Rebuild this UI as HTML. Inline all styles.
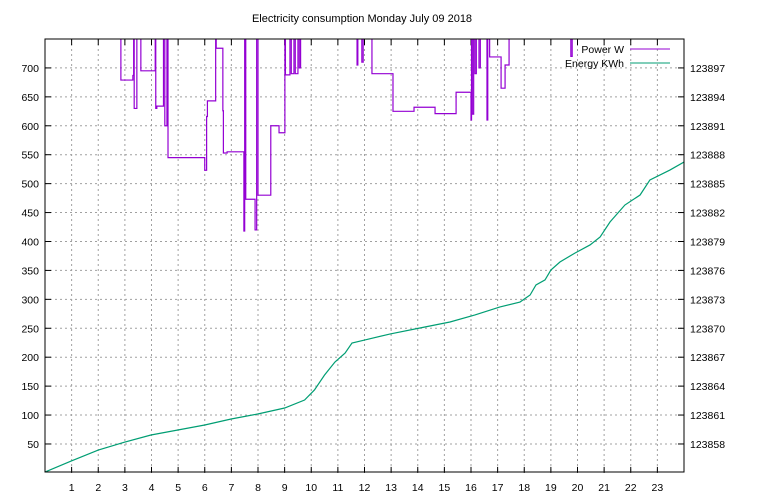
<!DOCTYPE html>
<html><head><meta charset="utf-8"><style>
body{margin:0;background:#fff;}
svg{display:block;font-family:"Liberation Sans",sans-serif;font-size:10.5px;}
</style></head><body>
<svg id="chart" width="768" height="500">
<text x="362" y="22" text-anchor="middle" font-size="11">Electricity consumption Monday July 09 2018</text>
<g id="grid"></g>
<g id="axes"></g>
<clipPath id="clip"><rect x="45" y="39" width="639" height="433"/></clipPath>
<g clip-path="url(#clip)">
<path id="power" fill="none" stroke="#9400d3" stroke-width="1.2"/>
<path id="energy" fill="none" stroke="#009e73" stroke-width="1.2"/>
</g>
<rect x="45" y="39" width="639" height="433" fill="none" stroke="#000"/>
<g>
<text x="624" y="53" text-anchor="end">Power W</text>
<line x1="630" y1="49" x2="670" y2="49" stroke="#9400d3"/>
<text x="624" y="67" text-anchor="end">Energy KWh</text>
<line x1="630" y1="63" x2="670" y2="63" stroke="#009e73"/>
</g>
</svg>
<script>
const xTicks=[1,2,3,4,5,6,7,8,9,10,11,12,13,14,15,16,17,18,19,20,21,22,23];
const yTicks=[50,100,150,200,250,300,350,400,450,500,550,600,650,700];
const y2Ticks=[123858,123861,123864,123867,123870,123873,123876,123879,123882,123885,123888,123891,123894,123897];
const powerHours=[0,2.85,3.3,3.33,3.35,3.45,3.6,4.14,4.16,4.2,4.45,4.5,4.58,4.62,6.0,6.07,6.1,6.41,6.43,6.68,6.7,6.84,7.47,7.5,7.54,7.89,7.95,8.0,8.48,8.79,9.01,9.03,9.2,9.25,9.35,9.4,9.5,9.55,9.6,11.72,11.75,11.9,11.95,12.28,13.07,13.86,14.65,15.44,16.0,16.02,16.05,16.1,16.15,16.2,16.3,16.35,16.6,16.63,16.7,17.13,17.28,17.43,19.75,19.8];
const powerWatts=[900,679,687,900,630,900,695,900,630,634,900,600,900,545,523,616,643,900,734,626,553,555,418,900,473,420,900,480,600,588,900,688,900,690,900,690,900,700,900,705,900,710,900,690,625,632,621,658,610,900,620,900,690,900,700,900,610,900,719,665,705,900,720,900];
const energyHours=[0,0.98,2.0,3.0,3.98,4.99,6.0,6.99,7.99,9.0,9.75,10.12,10.5,10.89,11.27,11.53,12.0,12.97,14.08,15.21,16.15,17.09,17.84,18.22,18.44,18.78,19.0,19.34,19.91,20.47,20.85,21.22,21.78,22.35,22.72,23.47,24.0];
const energyKWh=[123855.09,123856.23,123857.37,123858.2,123858.93,123859.45,123859.97,123860.59,123861.11,123861.73,123862.56,123863.6,123865.15,123866.5,123867.43,123868.47,123868.78,123869.41,123870.03,123870.65,123871.38,123872.21,123872.72,123873.45,123874.49,123875.01,123876.04,123876.87,123877.81,123878.64,123879.47,123881.02,123882.78,123883.82,123885.38,123886.41,123887.24];

const L=45,R=684,T=39,B=472.9;
const X=h=>L+h*(R-L)/24;
const Y=w=>B-w*(B-T)/750;
const Y2=e=>B-(e-123855)*(B-T)/45;
const ns="http://www.w3.org/2000/svg";
const grid=document.getElementById('grid'),axes=document.getElementById('axes');
function mk(tag,attrs,parent){const el=document.createElementNS(ns,tag);for(const k in attrs)el.setAttribute(k,attrs[k]);parent.appendChild(el);return el;}
xTicks.forEach(h=>{
  const x=X(h);
  const g=mk('line',{x1:x,x2:x,y1:T,y2:B,stroke:'#a0a0a0','stroke-dasharray':'2,3'},grid);
  
  
  const t1=mk('line',{x1:x,x2:x,y1:B,y2:B-6,stroke:'#000'},axes);
  
  
  const t2=mk('line',{x1:x,x2:x,y1:T,y2:T+6,stroke:'#000'},axes);
  
  
  const tx=mk('text',{x:x,y:B+18,'text-anchor':'middle'},axes);tx.textContent=h;
  
  
});
yTicks.forEach(v=>{
  const y=Y(v);
  const g=mk('line',{x1:L,x2:R,y1:y,y2:y,stroke:'#a0a0a0','stroke-dasharray':'2,3'},grid);
  
  
  const t=mk('line',{x1:L,x2:L+6,y1:y,y2:y,stroke:'#000'},axes);
  
  
  const tx=mk('text',{x:L-6,y:y+4,'text-anchor':'end'},axes);tx.textContent=v;
  
  
});
y2Ticks.forEach(v=>{
  const y=Y2(v);
  const t=mk('line',{x1:R-6,x2:R,y1:y,y2:y,stroke:'#000'},axes);
  
  
  const tx=mk('text',{x:R+6,y:y+4,'text-anchor':'start'},axes);tx.textContent=v;
  
  
});
let d='';
powerHours.forEach((h,i)=>{
  const x=X(h),y=Y(powerWatts[i]);
  if(i===0)d+='M'+x+','+y;else d+=' H'+x+' V'+y;
});
d+=' H'+X(24);
document.getElementById('power').setAttribute('d',d);
document.getElementById('energy').setAttribute('d',energyHours.map((h,i)=>(i?'L':'M')+X(h)+','+Y2(energyKWh[i])).join(' '));
</script>
</body></html>
